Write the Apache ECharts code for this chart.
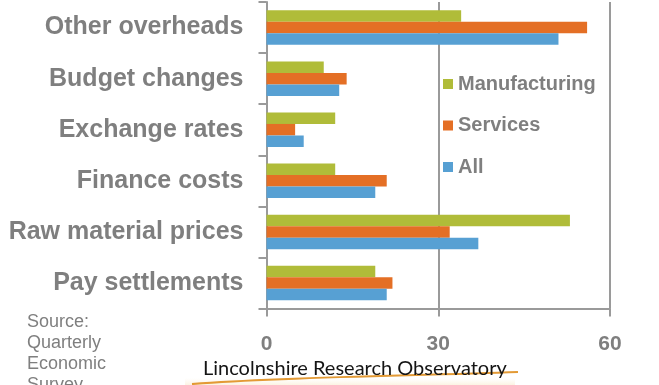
<!DOCTYPE html>
<html>
<head>
<meta charset="utf-8">
<script src="https://cdn.jsdelivr.net/npm/echarts@6/dist/echarts.min.js"></script>
<style>
  html, body { margin: 0; padding: 0; background: #ffffff; }
  #chart { width: 659px; height: 385px; }
</style>
</head>
<body>
<div id="chart"></div>
<script>
// Cost pressures by sector (% of firms), bottom to top on the category axis
const categories = ['Pay settlements', 'Raw material prices', 'Finance costs', 'Exchange rates', 'Budget changes', 'Other overheads'];
const manufacturing = [19, 53, 12, 12, 10, 34];
const services = [22, 32, 21, 5, 14, 56];
const allFirms = [21, 37, 19, 6.5, 12.7, 51];
const xTicks = { min: 0, max: 60, interval: 30 };
const sourceLines = ['Source:', 'Quarterly', 'Economic', 'Survey'];
const logoText = 'Lincolnshire Research Observatory';

const grey = '#7f7f7f';
const axisGrey = '#9a9a9a';
const sans = '"Liberation Sans", Arial, sans-serif';

const chart = echarts.init(document.getElementById('chart'), null, { renderer: 'canvas' });

chart.setOption({
  animation: false,
  backgroundColor: '#ffffff',
  grid: { left: 266.5, right: 49, top: 2, bottom: 76.5, containLabel: false },
  legend: {
    orient: 'vertical',
    left: 438,
    top: 69,
    itemWidth: 10,
    itemHeight: 10,
    itemGap: 21.5,
    icon: 'rect',
    data: ['Manufacturing', 'Services', 'All'],
    textStyle: { color: grey, fontSize: 20, fontWeight: 'bold', fontFamily: sans }
  },
  xAxis: {
    type: 'value',
    min: xTicks.min,
    max: xTicks.max,
    interval: xTicks.interval,
    axisLine: { show: true, lineStyle: { color: axisGrey, width: 2 } },
    axisTick: { show: true, length: 8, lineStyle: { color: axisGrey, width: 2 } },
    splitLine: { show: true, lineStyle: { color: axisGrey, width: 2 } },
    axisLabel: { color: grey, fontSize: 21, fontWeight: 'bold', margin: 25, fontFamily: sans }
  },
  yAxis: {
    type: 'category',
    data: categories,
    axisLine: { show: true, lineStyle: { color: axisGrey, width: 2 } },
    axisTick: { show: true, length: 8, lineStyle: { color: axisGrey, width: 2 } },
    axisLabel: { color: grey, fontSize: 25, fontWeight: 'bold', margin: 23, fontFamily: sans }
  },
  // the first series sits at the top of each group
  series: [
    { name: 'Manufacturing', type: 'bar', data: manufacturing, barWidth: 11.5, barGap: '0%', itemStyle: { color: '#b0bc39' } },
    { name: 'Services', type: 'bar', data: services, barWidth: 11.5, barGap: '0%', itemStyle: { color: '#e46f25' } },
    { name: 'All', type: 'bar', data: allFirms, barWidth: 11.5, barGap: '0%', itemStyle: { color: '#57a0d3' } }
  ],
  graphic: [
    {
      type: 'text',
      left: 27,
      top: 312,
      style: {
        text: sourceLines.join('\n'),
        fill: grey,
        font: '18px ' + sans,
        lineHeight: 21
      }
    },
    {
      // pale wash under the observatory banner
      type: 'rect',
      shape: { x: 185, y: 378, width: 330, height: 7 },
      style: {
        fill: new echarts.graphic.LinearGradient(0, 0, 0, 1, [
          { offset: 0, color: 'rgba(252,244,228,0)' },
          { offset: 1, color: 'rgba(250,238,214,0.7)' }
        ])
      },
      z: 1
    },
    {
      // orange swoosh of the banner
      type: 'bezierCurve',
      shape: { x1: 192, y1: 384, cpx1: 300, cpy1: 376, cpx2: 420, cpy2: 376, x2: 518, y2: 372 },
      style: { stroke: '#e39a35', lineWidth: 2.2, fill: null },
      z: 2
    },
    {
      type: 'text',
      left: 203,
      top: 359,
      style: {
        text: logoText,
        fill: '#141414',
        font: '20px Lato, "Open Sans", sans-serif'
      },
      z: 3
    }
  ]
});
</script>
</body>
</html>
